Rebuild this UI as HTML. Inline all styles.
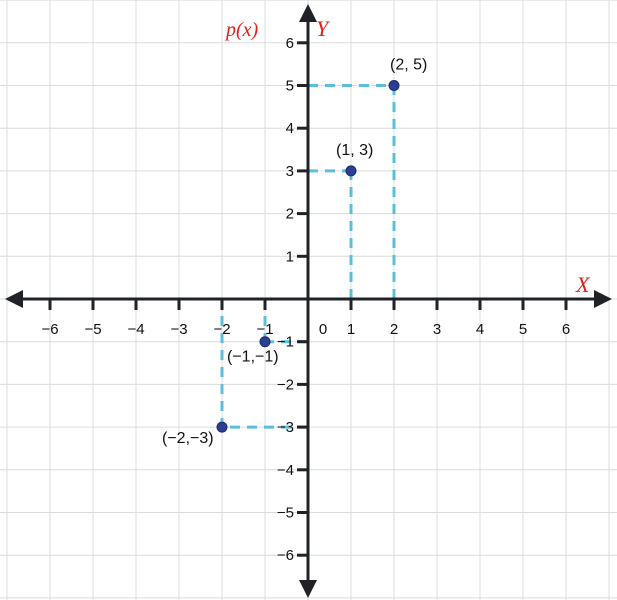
<!DOCTYPE html>
<html><head><meta charset="utf-8"><style>
html,body{margin:0;padding:0;background:#fff;}
svg{display:block;}
</style></head><body>
<svg id="chart" width="617" height="600" xmlns="http://www.w3.org/2000/svg" style="font-family:'Liberation Sans',sans-serif">
<g id="grid"></g>
<g id="guides"></g>
<g id="axes"></g>
<g id="points"></g>
<text x="576" y="292" fill="#e0201a" style="font-family:'Liberation Serif',serif;font-style:italic;font-size:22px">X</text>
<text x="316" y="36" fill="#e0201a" style="font-family:'Liberation Serif',serif;font-style:italic;font-size:22px">Y</text>
<text x="226" y="36" fill="#e0201a" style="font-family:'Liberation Serif',serif;font-style:italic;font-size:20px">p(x)</text>
</svg>
<script>
const xTicks=[-6,-5,-4,-3,-2,-1,1,2,3,4,5,6];
const yTicks=[-6,-5,-4,-3,-2,-1,1,2,3,4,5,6];
const ptX=[2,1,-1,-2];
const ptY=[5,3,-1,-3];
const ptLabels=["(2, 5)","(1, 3)","(\u22121,\u22121)","(\u22122,\u22123)"];
const NS="http://www.w3.org/2000/svg";
const ox=308, oy=299, ux=43, uy=42.7;
const sx=v=>ox+v*ux, sy=v=>oy-v*uy;
function mk(tag,attrs,parent){const e=document.createElementNS(NS,tag);for(const k in attrs)e.setAttribute(k,attrs[k]);parent.appendChild(e);return e;}
const grid=document.getElementById('grid');
for(let i=-7;i<=7;i++){
  const l=mk('line',{x1:sx(i),x2:sx(i),y1:0,y2:600,stroke:'#dcdcdc','stroke-width':1},grid);
  
  
  const h=mk('line',{x1:0,x2:617,y1:sy(i),y2:sy(i),stroke:'#dcdcdc','stroke-width':1},grid);
  
  
}
const guides=document.getElementById('guides');
ptX.forEach((x,i)=>{
  const y=ptY[i];
  const a=mk('line',{x1:sx(0),x2:sx(x),y1:sy(y),y2:sy(y),stroke:'#5bbfdc','stroke-width':3,'stroke-dasharray':'10 7'},guides);
  
  
  const b=mk('line',{x1:sx(x),x2:sx(x),y1:sy(0),y2:sy(y),stroke:'#5bbfdc','stroke-width':3,'stroke-dasharray':'10 7'},guides);
  
  
});
const axes=document.getElementById('axes');
const c='#1f2328';
let e;
e=mk('line',{x1:14,x2:603,y1:oy,y2:oy,stroke:c,'stroke-width':3},axes);


e=mk('line',{x1:ox,x2:ox,y1:14,y2:588,stroke:c,'stroke-width':3},axes);


e=mk('path',{d:`M612 ${oy} L594 ${oy-9} L594 ${oy+9} Z M5 ${oy} L23 ${oy-9} L23 ${oy+9} Z`,fill:c},axes);


e=mk('path',{d:`M${ox} 4 L${ox-9} 22 L${ox+9} 22 Z M${ox} 598 L${ox-9} 580 L${ox+9} 580 Z`,fill:c},axes);


xTicks.forEach(v=>{
  const t=mk('line',{x1:sx(v),x2:sx(v),y1:oy,y2:oy+11,stroke:c,'stroke-width':3},axes);
  
  
  const l=mk('text',{x:sx(v),y:oy+35,'text-anchor':'middle','font-size':15,fill:'#111'},axes);
  l.textContent=v<0?'\u2212'+(-v):String(v);
  
  
});
yTicks.forEach(v=>{
  const t=mk('line',{x1:ox-11,x2:ox,y1:sy(v),y2:sy(v),stroke:c,'stroke-width':3},axes);
  
  
  const l=mk('text',{x:ox-14,y:sy(v)+5,'text-anchor':'end','font-size':15,fill:'#111'},axes);
  l.textContent=v<0?'\u2212'+(-v):String(v);
  
  
});
e=mk('text',{x:ox+15,y:oy+35,'text-anchor':'middle','font-size':15,fill:'#111'},axes);
e.textContent='0';


const pts=document.getElementById('points');
const offs=[[-4,-16,'start'],[-15,-16,'start'],[-38,20,'start'],[-60,16,'start']];
ptX.forEach((x,i)=>{
  const p=mk('circle',{cx:sx(x),cy:sy(ptY[i]),r:5,fill:'#2c3e94',stroke:'#1c2a70','stroke-width':1},pts);
  
  
  const t=mk('text',{x:sx(x)+offs[i][0],y:sy(ptY[i])+offs[i][1],'font-size':16,fill:'#111','text-anchor':offs[i][2]},pts);
  t.textContent=ptLabels[i];
  
  
});
</script>
</body></html>
